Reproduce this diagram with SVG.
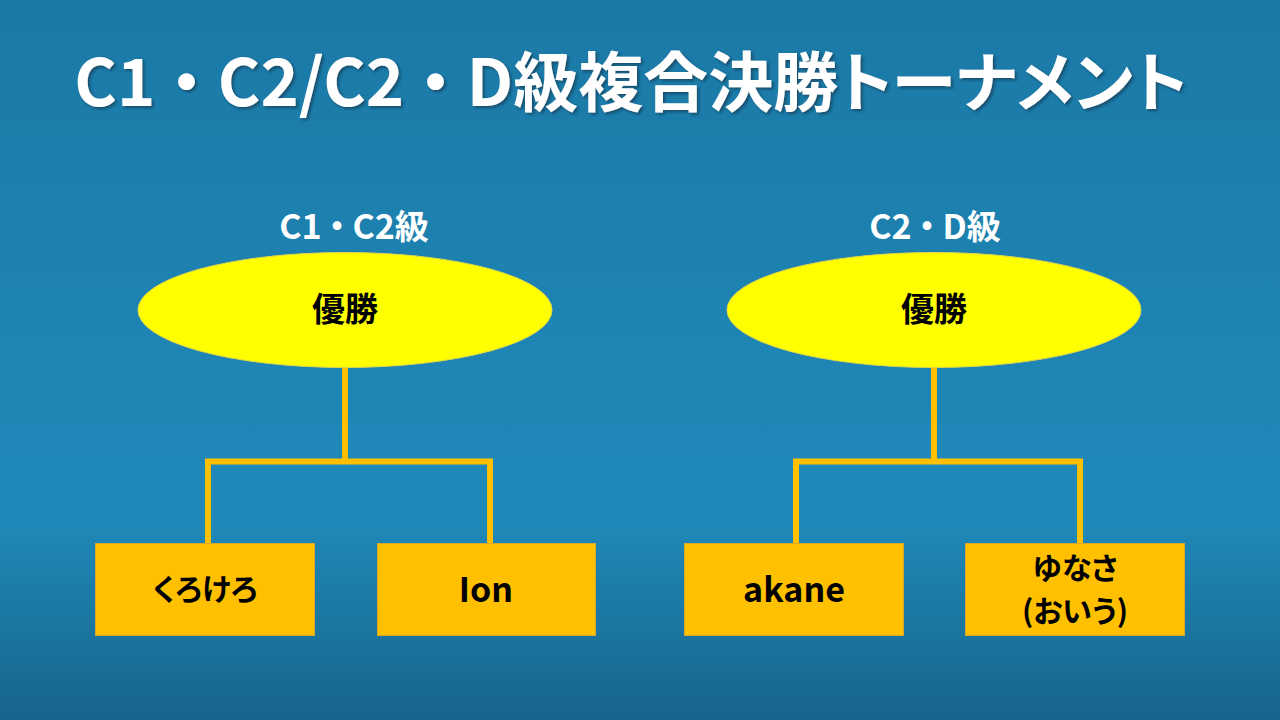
<svg xmlns="http://www.w3.org/2000/svg" width="1280" height="720" viewBox="0 0 1280 720">
  <defs>
    <linearGradient id="bg" x1="0" y1="0" x2="0" y2="1">
      <stop offset="0" stop-color="#1b79a6"/>
      <stop offset="0.72" stop-color="#1f8aba"/>
      <stop offset="0.76" stop-color="#1e84b2"/>
      <stop offset="1" stop-color="#17648c"/>
    </linearGradient>
    <filter id="shadow" x="-5%" y="-20%" width="110%" height="140%">
      <feDropShadow dx="2" dy="2" stdDeviation="1.5" flood-color="#0a2a40" flood-opacity="0.6"/>
    </filter>
  </defs>
  <style>
    text { font-family: "Noto Sans CJK JP", "Noto Sans", sans-serif; font-weight: 700; font-feature-settings: "palt"; text-anchor: middle; }
    .title { fill: #ffffff; font-size: 65px; }
    .sub { fill: #ffffff; font-size: 34px; }
    .win { fill: #000000; font-size: 33px; }
    .name { fill: #000000; font-size: 34px; }
    .kana { fill: #000000; font-size: 30px; }
    .ell { fill: #ffff00; stroke: #e0d84a; stroke-width: 1; }
    .box { fill: #ffc000; stroke: #d9a82a; stroke-width: 1; }
    .con { fill: none; stroke: #ffc000; stroke-width: 6; stroke-linejoin: miter; stroke-linecap: butt; }
  </style>
  <rect x="0" y="0" width="1280" height="720" fill="url(#bg)"/>

  <g id="title" filter="url(#shadow)">
    <text class="title" x="631" y="106">C1<tspan dx="15">・</tspan><tspan dx="15">C2/C2</tspan><tspan dx="15">・</tspan><tspan dx="15">D級複合決勝トーナメント</tspan></text>
  </g>

  <g id="connectors">
    <path class="con" d="M345 367 V461.5"/>
    <path class="con" d="M208 543 V461.5 H490 V543"/>
    <path class="con" d="M934 367 V461.5"/>
    <path class="con" d="M796 543 V461.5 H1080 V543"/>
  </g>

  <g id="label-left">
    <text class="sub" x="354" y="239">C1<tspan dx="7">・</tspan><tspan dx="7">C2級</tspan></text>
  </g>
  <g id="label-right">
    <text class="sub" x="935" y="239">C2<tspan dx="7">・</tspan><tspan dx="7">D級</tspan></text>
  </g>

  <g id="winner-left">
    <ellipse class="ell" cx="345" cy="310" rx="207" ry="57.5"/>
    <text class="win" x="345" y="321">優勝</text>
  </g>
  <g id="winner-right">
    <ellipse class="ell" cx="934" cy="310" rx="207" ry="57.5"/>
    <text class="win" x="934" y="321">優勝</text>
  </g>

  <g id="node-kuro">
    <rect class="box" x="95.5" y="543.5" width="219" height="92"/>
    <text class="kana" x="205" y="600">くろけろ</text>
  </g>
  <g id="node-ion">
    <rect class="box" x="377.5" y="543.5" width="218" height="92"/>
    <text class="name" x="486" y="602">Ion</text>
  </g>
  <g id="node-akane">
    <rect class="box" x="684.5" y="543.5" width="219" height="92"/>
    <text class="name" x="794" y="602">akane</text>
  </g>
  <g id="node-yunasa">
    <rect class="box" x="965.5" y="543.5" width="219" height="92"/>
    <text class="kana" x="1075" y="579">ゆなさ</text>
    <text class="kana" x="1075" y="622">(おいう)</text>
  </g>
</svg>
